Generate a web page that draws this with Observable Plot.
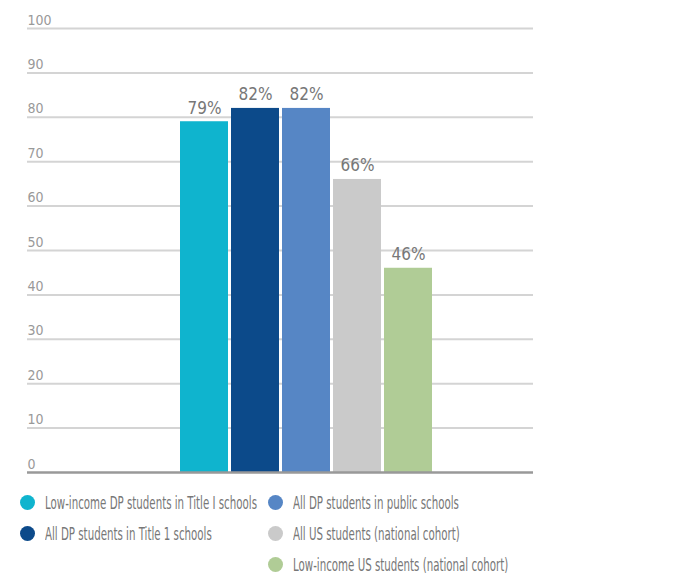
<!DOCTYPE html>
<html>
<head>
<meta charset="utf-8">
<script src="https://cdn.jsdelivr.net/npm/d3@7"></script>
<script src="https://cdn.jsdelivr.net/npm/@observablehq/plot@0.6"></script>
<style>
  body { margin: 0; background: #fff; font-family: "Liberation Sans Narrow", "DejaVu Sans Condensed", "Roboto", sans-serif; overflow: hidden; }
  #chart svg { display: block; }
  .legend { display: grid; grid-template-columns: 248px auto; grid-template-rows: repeat(3, 31px); margin-left: 20px; margin-top: 1px; }
  .item { display: flex; align-items: center; font-size: 17px; line-height: 20px; color: #777; white-space: nowrap; }
  .dot { width: 15px; height: 15px; border-radius: 50%; margin-right: 10px; flex: none; }
  .lbl { display: inline-block; transform: scaleX(0.67); transform-origin: left center; }
</style>
</head>
<body>
<div id="chart"></div>
<div class="legend" id="legend"></div>
<script>
const categories = [
  "Low-income DP students in Title I schools",
  "All DP students in Title 1 schools",
  "All DP students in public schools",
  "All US students (national cohort)",
  "Low-income US students (national cohort)"
];
const values = [79, 82, 82, 66, 46];
const colors = ["#0fb4ce", "#0c4a8a", "#5686c5", "#cacaca", "#b0cc96"];
const yTicks = [0, 10, 20, 30, 40, 50, 60, 70, 80, 90, 100];
const legendCol = [1, 1, 2, 2, 2];
const legendRow = [1, 2, 1, 2, 3];

const data = categories.map((c, i) => ({category: c, value: values[i]}));

const chart = Plot.plot({
  width: 696,
  height: 486,
  marginTop: 28,
  marginBottom: 14,
  marginLeft: 27,
  marginRight: 163,
  style: {fontFamily: "'Liberation Sans Narrow', 'DejaVu Sans Condensed', sans-serif"},
  x: {domain: categories, range: [180, 432], paddingInner: 0.06, paddingOuter: 0, round: true, axis: null},
  y: {domain: [0, 100], axis: null},
  color: {domain: categories, range: colors},
  marks: [
    Plot.ruleY(yTicks.filter(d => d > 0), {stroke: "#d4d4d4", strokeWidth: 2}),
    Plot.text(yTicks, {y: d => d, text: d => String(d), frameAnchor: "left", textAnchor: "start", lineAnchor: "bottom", dy: -4, fill: "#999", fontSize: 14}),
    Plot.barY(data, {x: "category", y: "value", fill: "category"}),
    Plot.ruleY([0], {stroke: "#999", strokeWidth: 2.5}),
    Plot.text(data, {x: "category", y: "value", text: d => d.value + "%", lineAnchor: "bottom", dy: -8, fill: "#777", fontSize: 17})
  ]
});
document.getElementById("chart").append(chart);

const legend = document.getElementById("legend");
categories.forEach((c, i) => {
  const item = document.createElement("div");
  item.className = "item";
  item.style.gridColumn = legendCol[i];
  item.style.gridRow = legendRow[i];
  const dot = document.createElement("span");
  dot.className = "dot";
  dot.style.background = colors[i];
  const lbl = document.createElement("span");
  lbl.className = "lbl";
  lbl.textContent = c;
  item.append(dot, lbl);
  legend.append(item);
});
</script>
</body>
</html>
